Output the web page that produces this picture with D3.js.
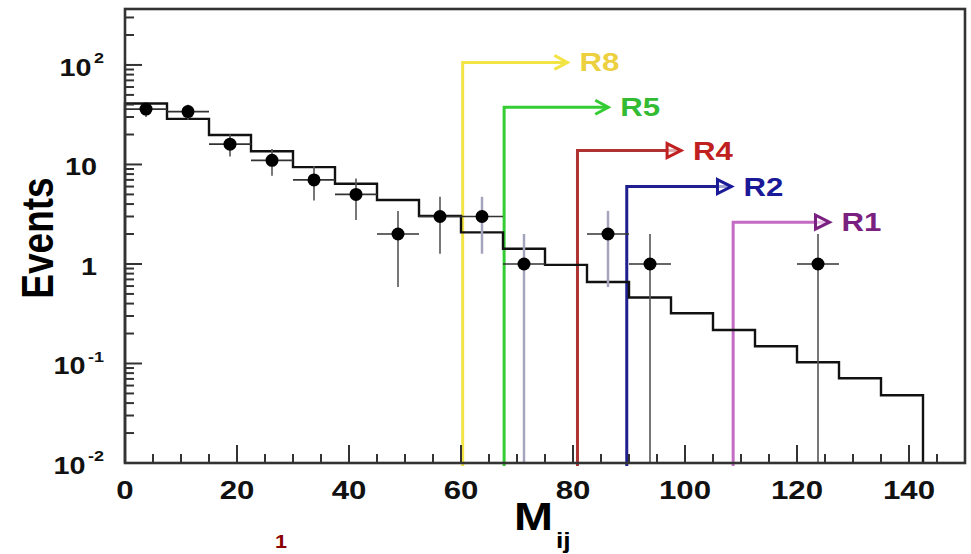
<!DOCTYPE html>
<html>
<head>
<meta charset="utf-8">
<script src="https://cdn.jsdelivr.net/npm/d3@7"></script>
<style>
  html, body { margin: 0; padding: 0; background: #fff; }
  svg { display: block; }
  text { font-family: "Liberation Sans", Arial, Helvetica, sans-serif; font-weight: bold; }
</style>
</head>
<body>
<svg id="chart" width="971" height="554"></svg>
<script>
// ---------------- data ----------------
const binStart = 0;
const binWidth = 7.5;
// expected background (histogram), one value per 7.5 GeV bin
const background = [41, 28.7, 19.8, 13.6, 9.4, 6.4, 4.4, 3.04, 2.08, 1.42, 0.98, 0.66, 0.46, 0.32, 0.217, 0.149, 0.103, 0.071, 0.048];
// observed events per bin
const observed = [36, 34, 16, 11, 7, 5, 2, 3, 3, 1, 0, 2, 1, 0, 0, 0, 1, 0, 0];

// cut annotations
const cutNames = ["R8", "R5", "R4", "R2", "R1"];
const cutValues = [60.3, 67.7, 80.8, 89.6, 108.6];
const cutArrowEnd = [79, 86.3, 99.3, 108.3, 125.8];
const cutLevel = [106, 37.6, 13.8, 6.0, 2.63];

const xTicks = [0, 20, 40, 60, 80, 100, 120, 140];
const yTickValues = [100, 10, 1, 0.1, 0.01];
const yTickBase = ["10", "10", "1", "10", "10"];
const yTickExp = ["2", "", "", "-1", "-2"];

// ---------------- style ----------------
const lineColors = ["#f2e444", "#33cc33", "#b03333", "#1f1f8f", "#c46cc4"];
const labelColors = ["#ecd040", "#33bb33", "#c02020", "#1a1a99", "#7a2080"];
const headStyle = ["chevron", "chevron", "triangle", "triangle", "triangle"];
const lightErr = new Set([8, 9, 11]);
const SX = 1.2; // horizontal stretch of the reference's text

const svg = d3.select("#chart");
const L = 125, R = 965, T = 9, B = 463;

const x = d3.scaleLinear().domain([0, 150]).range([L, R]);
const y = d3.scaleLog().domain([0.01, 365]).range([B, T]);

// ---------------- cut lines (below histogram) ----------------
const cutG = svg.append("g");
cutNames.forEach((name, i) => {
  const x0 = x(cutValues[i]), yl = y(cutLevel[i]), x1 = x(cutArrowEnd[i]);
  cutG.append("path")
    .attr("d", `M${x0},${B + 3}V${yl}H${x1 - 2}`)
    .attr("fill", "none").attr("stroke", lineColors[i]).attr("stroke-width", 3);
  if (headStyle[i] === "chevron") {
    cutG.append("path")
      .attr("d", `M${x1 - 13},${yl - 7}L${x1},${yl}L${x1 - 13},${yl + 7}`)
      .attr("fill", "none").attr("stroke", lineColors[i]).attr("stroke-width", 3)
      .attr("stroke-linejoin", "miter");
  } else {
    cutG.append("path")
      .attr("d", `M${x1 - 14},${yl - 7}L${x1},${yl}L${x1 - 14},${yl + 7}Z`)
      .attr("fill", "#fff").attr("fill-opacity", 0.6).attr("stroke", labelColors[i]).attr("stroke-width", 3)
      .attr("stroke-linejoin", "miter");
  }
});

// ---------------- histogram ----------------
const edges = d3.range(background.length + 1).map(k => binStart + k * binWidth);
let d = `M${x(edges[0])},${B}`;
background.forEach((v, k) => {
  d += `V${y(v)}H${x(edges[k + 1])}`;
});
d += `V${B}`;
svg.append("path").attr("d", d).attr("fill", "none").attr("stroke", "#111").attr("stroke-width", 2.4);

// ---------------- data points ----------------
const ptG = svg.append("g");
observed.forEach((n, k) => {
  if (n <= 0) return;
  const cx = x(binStart + (k + 0.5) * binWidth);
  const cy = y(n);
  const err = Math.sqrt(n);
  const up = y(n + err);
  const lo = (n - err) > 0.01 ? y(n - err) : B;
  ptG.append("line").attr("x1", cx).attr("x2", cx).attr("y1", up).attr("y2", lo)
    .attr("stroke", lightErr.has(k) ? "#a4a4bc" : "#555").attr("stroke-width", lightErr.has(k) ? 2.5 : 1.6);
  ptG.append("line").attr("x1", x(edges[k])).attr("x2", x(edges[k + 1])).attr("y1", cy).attr("y2", cy)
    .attr("stroke", "#333").attr("stroke-width", 1.6);
  ptG.append("circle").attr("cx", cx).attr("cy", cy).attr("r", 6.5).attr("fill", "#000");
});

// ---------------- cut labels ----------------
cutNames.forEach((name, i) => {
  svg.append("text")
    .attr("transform", `translate(${x(cutArrowEnd[i]) + 12},${y(cutLevel[i]) + 9}) scale(${SX},1)`)
    .attr("font-size", 26).attr("fill", labelColors[i]).text(name);
});

// ---------------- frame & ticks ----------------
const axG = svg.append("g").attr("stroke", "#333");
axG.append("rect").attr("x", L).attr("y", T).attr("width", R - L).attr("height", B - T)
  .attr("fill", "none").attr("stroke-width", 2.6);

// x ticks (inward)
d3.range(0, 150, 5).forEach(v => {
  const major = v % 20 === 0;
  axG.append("line").attr("x1", x(v)).attr("x2", x(v)).attr("y1", B).attr("y2", B - (major ? 18 : 9))
    .attr("stroke-width", 2);
});
// y ticks (inward, log)
const yMinor = [];
[0.01, 0.1, 1, 10, 100].forEach(dec => {
  for (let m = 1; m <= 9; m++) {
    const v = dec * m;
    if (v <= 365) yMinor.push({ v, major: m === 1 });
  }
});
yMinor.forEach(t => {
  axG.append("line").attr("x1", L).attr("x2", L + (t.major ? 17 : 9)).attr("y1", y(t.v)).attr("y2", y(t.v))
    .attr("stroke-width", 2);
});

// x tick labels
xTicks.forEach(v => {
  svg.append("text")
    .attr("transform", `translate(${x(v)},499) scale(${SX},1)`)
    .attr("text-anchor", "middle").attr("font-size", 26).attr("fill", "#111").text(v);
});

// y tick labels
yTickValues.forEach((v, i) => {
  const hasExp = yTickExp[i] !== "";
  const t = svg.append("text")
    .attr("transform", `translate(${hasExp ? 104 : 97},${y(v) + 11}) scale(${SX},1)`)
    .attr("text-anchor", "end").attr("font-size", 24).attr("fill", "#111");
  t.append("tspan").text(yTickBase[i]);
  if (hasExp) {
    t.append("tspan").attr("dx", 2).attr("dy", -13).attr("font-size", 15).text(yTickExp[i]);
  }
});

// axis titles
svg.append("text")
  .attr("transform", `translate(53,238) scale(${SX},1) rotate(-90)`)
  .attr("text-anchor", "middle").attr("font-size", 37).attr("fill", "#000").text("Events");

svg.append("text")
  .attr("transform", `translate(514,530) scale(${SX},1)`)
  .attr("font-size", 39).attr("fill", "#000").text("M");
svg.append("text")
  .attr("transform", `translate(556,548) scale(${SX},1)`)
  .attr("font-size", 22).attr("fill", "#000").text("ij");

// footnote marker at the bottom edge
svg.append("text")
  .attr("transform", `translate(281,548) scale(${SX},1)`)
  .attr("text-anchor", "middle").attr("font-size", 18).attr("fill", "#8b0000").text("1");
</script>
</body>
</html>
